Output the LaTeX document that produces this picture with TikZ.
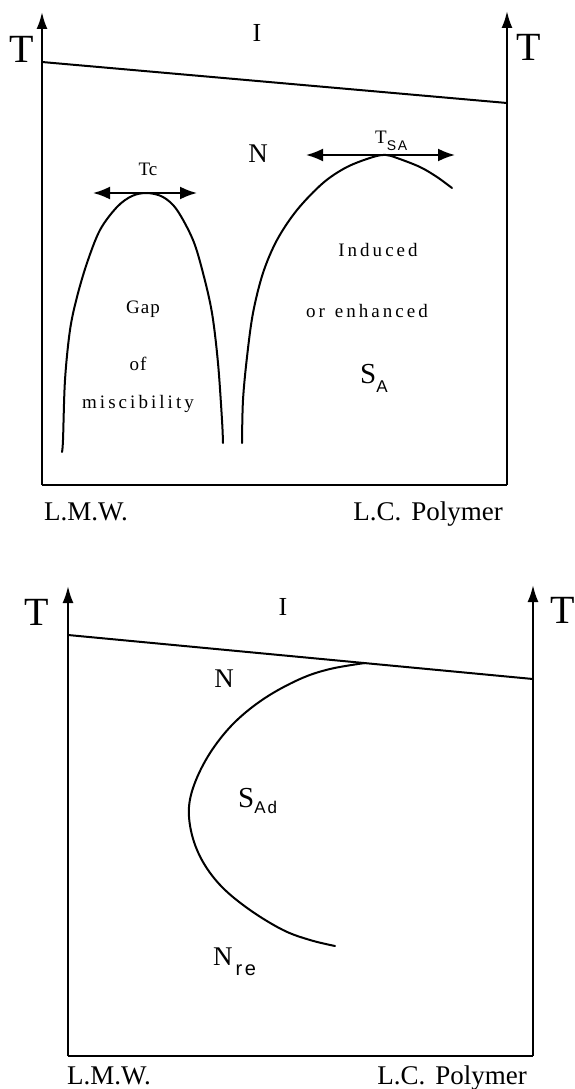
\documentclass[tikz,border=0pt]{standalone}
\usepackage{fontspec}
\setmainfont{Liberation Serif}
\newfontfamily\subsans[LetterSpace=12]{Liberation Sans}
\newfontfamily\spaced[LetterSpace=16]{Liberation Serif}
\newfontfamily\lightspaced[LetterSpace=6]{Liberation Serif}
\usetikzlibrary{arrows.meta}
\newcommand{\fs}[1]{\fontsize{#1}{#1}\selectfont}
\begin{document}
\begin{tikzpicture}[x=1pt,y=-1pt,
  axis/.style={line width=2.2pt,-{Latex[length=17pt,width=11pt]}},
  frame/.style={line width=2.2pt},
  curve/.style={line width=2pt,line cap=round},
  harrow/.style={line width=2pt,{Latex[length=17pt,width=13pt]}-{Latex[length=17pt,width=13pt]}},
  lbl/.style={inner sep=0pt,anchor=base},
  lblw/.style={inner sep=0pt,anchor=base west},
  axT/.style={lbl,font=\fs{40}},
  phase/.style={lbl,font=\fs{27}},
  small/.style={lbl,font=\spaced\fs{19}},
  comp/.style={lbl,font=\fs{27}}]
\useasboundingbox (0,0) rectangle (575,1089);
\fill[white] (0,0) rectangle (575,1089);

% ---------------- top diagram ----------------
\coordinate (aBL) at (42,485);
\coordinate (aTL) at (42,12);
\coordinate (aBR) at (507,485);
\coordinate (aTR) at (507,11);
\coordinate (aIL) at (42,62);
\coordinate (aIR) at (507,103);
\draw[axis] (aBL) -- (aTL);
\draw[axis] (aBR) -- (aTR);
\draw[frame] (aBL) -- (aBR);
\draw[curve] (aIL) -- (aIR);

\node[axT] (aT1) at (22,63) {T};
\node[axT] (aT2) at (529,61) {T};
\node[phase,font=\fs{26}] (aI) at (257,42) {I};
\node[phase] (aN) at (258,162) {N};

% gap of miscibility dome
\draw[curve] plot[smooth,tension=0.55] coordinates {(62,452) (63,440) (65,380) (70,330) (77,297) (87,263) (100,230) (117,207) (132,196) (147,193) (163,197) (177,210) (193,240) (203,273) (212,313) (218,363) (222,420) (223,443)};
\coordinate (tcL) at (93,193);
\coordinate (tcR) at (197,193);
\draw[harrow] (tcL) -- (tcR);
\node[lbl,font=\fs{19}] (aTc) at (148,175) {Tc};

% induced smectic dome
\draw[curve] plot[smooth,tension=0.55] coordinates {(242,443) (243,400) (247,357) (253,313) (263,273) (277,240) (297,210) (323,183) (347,167) (373,157) (386,155) (397,158) (420,167) (437,177) (452,188)};
\coordinate (saL) at (306,155);
\coordinate (saR) at (455,155);
\draw[harrow] (saL) -- (saR);
\node[lblw,font=\fs{19}] (aTsa) at (375,143) {T\raisebox{-7pt}{\subsans\fs{14}SA}};

\node[lbl,font=\lightspaced\fs{19}] (gap) at (143,313) {Gap};
\node[lbl,font=\lightspaced\fs{19}] (of) at (138,370) {of};
\node[small] (misc) at (138,408) {miscibility};
\node[small] (ind) at (378,256) {Induced};
\node[small] (enh) at (367,317) {or\hspace{10pt}enhanced};
\node[lblw,font=\fs{29}] (aSA) at (360,383) {S\raisebox{-9pt}{\subsans\fs{17}A}};

\node[comp] (aLMW) at (86,520) {L.M.W.};
\node[comp] (aLCP) at (428,520) {L.C.\hspace{10pt}Polymer};

% ---------------- bottom diagram ----------------
\coordinate (bBL) at (68,1056);
\coordinate (bTL) at (68,586);
\coordinate (bBR) at (533,1056);
\coordinate (bTR) at (533,585);
\coordinate (bIL) at (68,635);
\coordinate (bIR) at (533,679);
\coordinate (bC) at (365,663);
\draw[axis] (bBL) -- (bTL);
\draw[axis] (bBR) -- (bTR);
\draw[frame] (bBL) -- (bBR);
\draw[curve] (bIL) -- (bIR);

\node[axT] (bT1) at (37,625) {T};
\node[axT] (bT2) at (563,623) {T};
\node[phase,font=\fs{26}] (bI) at (283,615) {I};
\node[phase] (bN) at (224,687) {N};

\draw[curve] plot[smooth,tension=0.6] coordinates {(bC) (330,669) (300,679) (265,698) (235,722) (212,750) (196,780) (189,807) (192,835) (203,862) (222,887) (250,910) (283,930) (310,940) (335,946)};

\node[lblw,font=\fs{29}] (bSAd) at (238,807) {S\raisebox{-6pt}{\subsans\fs{17}Ad}};
\node[lblw,font=\fs{27}] (bNre) at (213,965) {N\hspace{3pt}\raisebox{-10pt}{\subsans\fs{20}re}};

\node[comp] (bLMW) at (109,1084) {L.M.W.};
\node[comp] (bLCP) at (452,1084) {L.C.\hspace{10pt}Polymer};
\end{tikzpicture}
\end{document}
